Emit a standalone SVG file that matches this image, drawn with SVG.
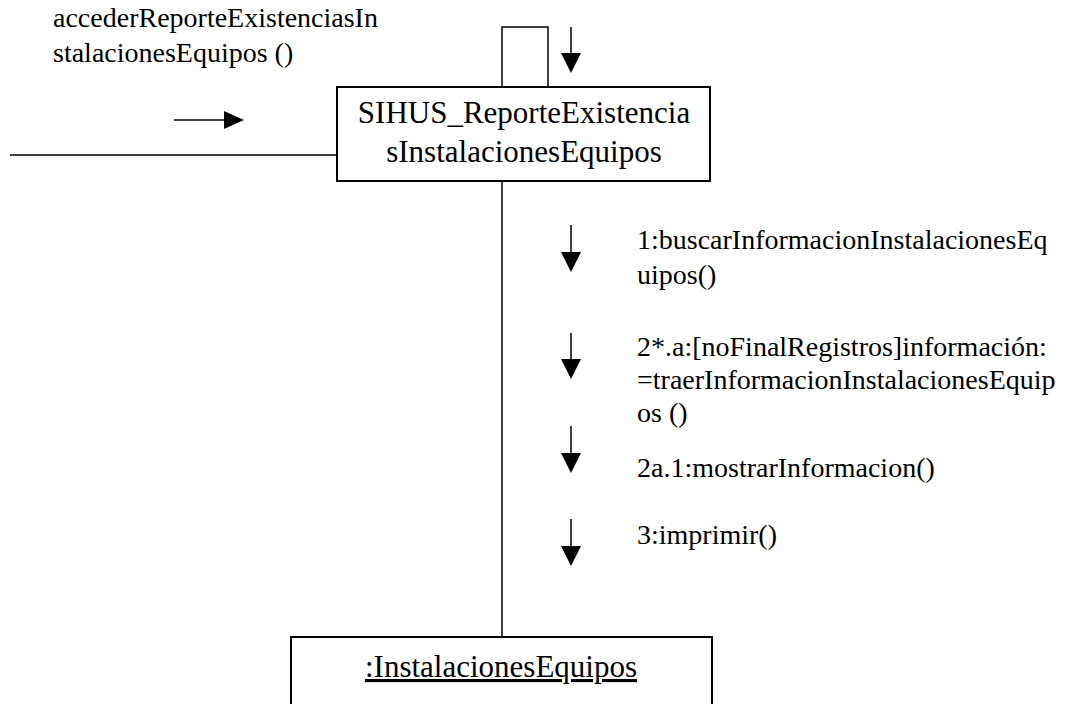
<svg xmlns="http://www.w3.org/2000/svg" width="1067" height="704" viewBox="0 0 1067 704">
<style>
.t{font-size:28px;fill:#000}
.b{font-size:31px;fill:#000}
.s{stroke:#000;stroke-width:1.5;fill:none}
.box{stroke:#000;stroke-width:2;fill:#fff}
.h{fill:#000}
</style>
<g id="connectors">
<line class="s" x1="10" y1="155" x2="337" y2="155"/>
<line class="s" x1="502" y1="181" x2="502" y2="637"/>
<polyline class="s" points="502,87 502,27 548,27 548,87"/>
<line class="s" x1="174" y1="120" x2="224" y2="120"/>
<path class="h" d="M224,111 L244,120 L224,129 Z"/>
<line class="s" x1="571" y1="27" x2="571" y2="53"/>
<path class="h" d="M561,53 L571,73 L581,53 Z"/>
<line class="s" x1="571" y1="225" x2="571" y2="252"/>
<path class="h" d="M561,252 L571,272 L581,252 Z"/>
<line class="s" x1="571" y1="333" x2="571" y2="359"/>
<path class="h" d="M561,359 L571,379 L581,359 Z"/>
<line class="s" x1="571" y1="426" x2="571" y2="453"/>
<path class="h" d="M561,453 L571,473 L581,453 Z"/>
<line class="s" x1="571" y1="519" x2="571" y2="546"/>
<path class="h" d="M561,546 L571,566 L581,546 Z"/>
</g>
<g id="node-sihus" font-family="Liberation Serif, serif">
<rect class="box" x="337" y="87" width="373" height="94"/>
<text class="b" x="524" y="123" text-anchor="middle">SIHUS_ReporteExistencia</text>
<text class="b" x="524" y="162" text-anchor="middle">sInstalacionesEquipos</text>
</g>
<g id="node-instalaciones" font-family="Liberation Serif, serif">
<rect class="box" x="291" y="637" width="421" height="80"/>
<text class="b" x="501" y="677" text-anchor="middle" text-decoration="underline">:InstalacionesEquipos</text>
</g>
<g id="labels" font-family="Liberation Serif, serif">
<text class="t" x="53" y="27">accederReporteExistenciasIn</text>
<text class="t" x="53" y="62">stalacionesEquipos ()</text>
<text class="t" x="637" y="249">1:buscarInformacionInstalacionesEq</text>
<text class="t" x="637" y="284">uipos()</text>
<text class="t" x="637" y="356">2*.a:[noFinalRegistros]información:</text>
<text class="t" x="637" y="389">=traerInformacionInstalacionesEquip</text>
<text class="t" x="637" y="422">os ()</text>
<text class="t" x="637" y="477">2a.1:mostrarInformacion()</text>
<text class="t" x="637" y="544">3:imprimir()</text>
</g>
</svg>
